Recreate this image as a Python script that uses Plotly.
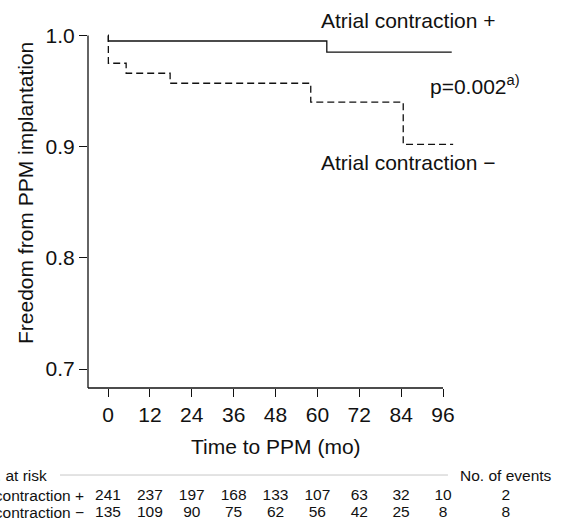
import plotly.graph_objects as go

# ---- data ----
pos_time = [0, 0.1, 62.7, 98.5]
pos_surv = [1.0, 0.995, 0.985, 0.985]
neg_time = [0, 0.1, 5.2, 17.8, 58.1, 84.6, 98.9]
neg_surv = [1.0, 0.975, 0.966, 0.957, 0.940, 0.902, 0.902]

x_ticks = [0, 12, 24, 36, 48, 60, 72, 84, 96]
y_ticks = [0.7, 0.8, 0.9, 1.0]
y_ticktext = ["0.7", "0.8", "0.9", "1.0"]

risk_pos = [241, 237, 197, 168, 133, 107, 63, 32, 10]
risk_neg = [135, 109, 90, 75, 62, 56, 42, 25, 8]
events_pos = 2
events_neg = 8
row_labels = ["Atrial contraction +", "Atrial contraction \u2212"]

FONT = "Liberation Sans, Arial, Helvetica, sans-serif"
INK = "#111111"
MAIN_SIZE = 21
TABLE_SIZE = 15.5

X_RANGE = [-5.731, 118.06]
Y_RANGE = [0.68292, 1.0229]
EVENTS_X = 114

fig = go.Figure()

fig.add_trace(go.Scatter(x=pos_time, y=pos_surv, mode="lines", line_shape="hv",
                         line=dict(color=INK, width=1.3), showlegend=False,
                         xaxis="x", yaxis="y"))
fig.add_trace(go.Scatter(x=neg_time, y=neg_surv, mode="lines", line_shape="hv",
                         line=dict(color=INK, width=1.3, dash="7px,4px"), showlegend=False,
                         xaxis="x", yaxis="y"))

# risk table
tf = dict(family=FONT, size=TABLE_SIZE, color=INK)
fig.add_trace(go.Scatter(x=x_ticks, y=[2] * len(x_ticks), mode="text",
                         text=[str(v) for v in risk_pos], textfont=tf,
                         showlegend=False, xaxis="x2", yaxis="y2", cliponaxis=False))
fig.add_trace(go.Scatter(x=x_ticks, y=[1] * len(x_ticks), mode="text",
                         text=[str(v) for v in risk_neg], textfont=tf,
                         showlegend=False, xaxis="x2", yaxis="y2", cliponaxis=False))
fig.add_trace(go.Scatter(x=[EVENTS_X, EVENTS_X], y=[2, 1], mode="text",
                         text=[str(events_pos), str(events_neg)], textfont=tf,
                         showlegend=False, xaxis="x2", yaxis="y2", cliponaxis=False))

MAIN_BOTTOM = 0.27168
TABLE_TOP = 0.12717

fig.update_layout(
    width=563, height=529,
    margin=dict(l=88, r=43, t=10, b=0, autoexpand=False),
    paper_bgcolor="white", plot_bgcolor="white",
    font=dict(family=FONT, size=MAIN_SIZE, color=INK),
    xaxis=dict(domain=[0, 1], range=X_RANGE, anchor="y", automargin=False,
               tickvals=x_ticks, ticktext=[str(t) for t in x_ticks],
               ticks="outside", ticklen=8, tickwidth=1.3, tickcolor=INK,
               showgrid=False, zeroline=False, showline=False,
               tickfont=dict(size=MAIN_SIZE, color=INK)),
    yaxis=dict(domain=[MAIN_BOTTOM, 1], range=Y_RANGE, anchor="x", automargin=False,
               tickvals=y_ticks, ticktext=y_ticktext,
               ticks="outside", ticklen=8, tickwidth=1.3, tickcolor=INK,
               showgrid=False, zeroline=False, showline=False,
               tickfont=dict(size=MAIN_SIZE, color=INK)),
    xaxis2=dict(domain=[0, 1], range=X_RANGE, anchor="y2", matches="x",
                visible=False, automargin=False),
    yaxis2=dict(domain=[0, TABLE_TOP], range=[0.0588, 3.94], anchor="x2", automargin=False,
                tickvals=[2, 1], ticktext=row_labels, ticks="", ticklabelstandoff=3,
                showgrid=False, zeroline=False, showline=False,
                tickfont=dict(size=TABLE_SIZE, color=INK)),
)

# axis lines
fig.add_shape(type="line", xref="paper", yref="y", x0=0, x1=0, y0=Y_RANGE[0], y1=1.0,
              line=dict(color=INK, width=1.3))
fig.add_shape(type="line", xref="x", yref="paper", x0=X_RANGE[0], x1=96,
              y0=MAIN_BOTTOM, y1=MAIN_BOTTOM, line=dict(color=INK, width=1.3))

# table header + separator line
fig.add_shape(type="line", xref="paper", yref="paper", x0=-0.0648, x1=0.8333,
              y0=0.104, y1=0.104, line=dict(color="#c8c8c8", width=1))
fig.add_annotation(text="No. at risk", xref="paper", yref="paper", x=-0.0903, y=0.104,
                   xanchor="right", yanchor="middle", showarrow=False,
                   font=dict(size=TABLE_SIZE, color=INK))
fig.add_annotation(text="No. of events", xref="x", yref="paper", x=EVENTS_X, y=0.104,
                   xanchor="center", yanchor="middle", showarrow=False,
                   font=dict(size=TABLE_SIZE, color=INK))

# axis titles
fig.add_annotation(text="Time to PPM (mo)", xref="x", yref="paper", x=48, y=0.1599,
                   xanchor="center", yanchor="middle", showarrow=False,
                   font=dict(size=MAIN_SIZE, color=INK))
fig.add_annotation(text="Freedom from PPM implantation", xref="paper", yref="y",
                   x=-0.1458, y=0.8583, textangle=-90, xanchor="center", yanchor="middle",
                   showarrow=False, font=dict(size=MAIN_SIZE, color=INK))

# curve labels
fig.add_annotation(text="Atrial contraction +", xref="x", yref="y", x=60.4, y=1.0139,
                   xanchor="left", yanchor="middle", showarrow=False,
                   font=dict(size=MAIN_SIZE, color=INK))
fig.add_annotation(text="Atrial contraction \u2212", xref="x", yref="y", x=60.4, y=0.8858,
                   xanchor="left", yanchor="middle", showarrow=False,
                   font=dict(size=MAIN_SIZE, color=INK))
fig.add_annotation(text="p=0.002<sup>a)</sup>", xref="x", yref="y", x=91.8, y=0.9555,
                   xanchor="left", yanchor="middle", showarrow=False,
                   font=dict(size=MAIN_SIZE, color=INK))

fig.write_html("out.html", config={"displayModeBar": False},
               post_script="document.body.style.margin='0';")
